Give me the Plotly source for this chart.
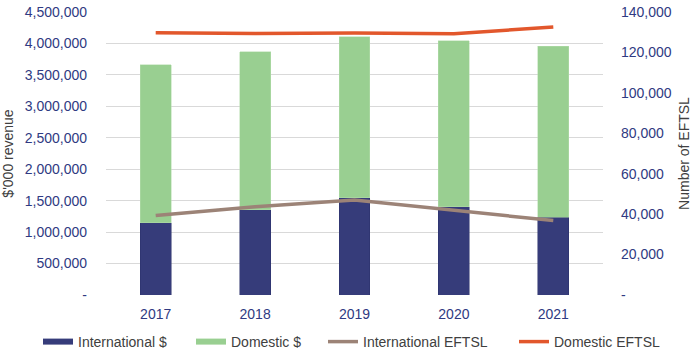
import plotly.graph_objects as go

years = ["2017", "2018", "2019", "2020", "2021"]
intl_rev = [1150000, 1353000, 1549000, 1406000, 1237000]
total_rev = [3661000, 3868000, 4107000, 4043000, 3958000]
dom_rev = [t - i for t, i in zip(total_rev, intl_rev)]
intl_eftsl = [39300, 43700, 47050, 41750, 36800]
dom_eftsl = [129700, 129400, 129600, 129250, 132570]

left_ticks = [0, 500000, 1000000, 1500000, 2000000, 2500000, 3000000, 3500000, 4000000, 4500000]
left_text = ["-"] + [f"{v:,}" for v in left_ticks[1:]]
right_ticks = [0, 20000, 40000, 60000, 80000, 100000, 120000, 140000]
right_text = ["-"] + [f"{v:,}" for v in right_ticks[1:]]

navy = "#363C7A"
green = "#99CF91"
taupe = "#9C8377"
orange = "#E2572C"
tickc = "#2F3A82"
titlec = "#404040"
FS = 14

fig = go.Figure()
fig.add_trace(go.Bar(x=years, y=intl_rev, name="International $", showlegend=False,
                     marker=dict(color=navy, line=dict(color="#2A2F6A", width=0.5)), width=0.31))
fig.add_trace(go.Bar(x=years, y=dom_rev, name="Domestic $", showlegend=False,
                     marker=dict(color=green, line=dict(color="#B5DDAE", width=0.5)), width=0.31))
fig.add_trace(go.Scatter(x=years, y=intl_eftsl, name="International EFTSL", mode="lines",
                         line=dict(color=taupe, width=3.5), yaxis="y2", legend="legend3"))
fig.add_trace(go.Scatter(x=years, y=dom_eftsl, name="Domestic EFTSL", mode="lines",
                         line=dict(color=orange, width=3.5), yaxis="y2", legend="legend4"))
# legend entries for the bars (rectangular swatches)
fig.add_trace(go.Scatter(x=[None], y=[None], name="International $", mode="lines",
                         line=dict(color=navy, width=6), legend="legend"))
fig.add_trace(go.Scatter(x=[None], y=[None], name="Domestic $", mode="lines",
                         line=dict(color=green, width=6), legend="legend2"))

def leg(xpx):
    return dict(orientation="h", xref="container", yref="container", x=xpx / 700, xanchor="left",
                y=1 - 342 / 351, yanchor="middle", font=dict(size=FS, color=titlec),
                bgcolor="rgba(0,0,0,0)", borderwidth=0)

fig.update_layout(
    width=700, height=351,
    margin=dict(l=106, r=97, t=12, b=56, autoexpand=False),
    barmode="stack",
    plot_bgcolor="white", paper_bgcolor="white",
    font=dict(family="Liberation Sans, Arial, sans-serif", size=FS, color=titlec),
    xaxis=dict(tickfont=dict(color=tickc, size=FS), showgrid=False, showline=False, ticks="",
               automargin=False, ticklabelstandoff=9),
    yaxis=dict(range=[0, 4500000], tickvals=left_ticks, ticktext=left_text,
               tickfont=dict(color=tickc, size=FS), gridcolor="#D9D9D9", gridwidth=1,
               zeroline=False, showline=False, automargin=False,
               title=dict(text="$'000 revenue", font=dict(size=FS, color=titlec), standoff=8),
               ticklabelstandoff=18),
    yaxis2=dict(range=[0, 140000], tickvals=right_ticks, ticktext=right_text, overlaying="y", side="right",
                tickfont=dict(color=tickc, size=FS), showgrid=False, zeroline=False, showline=False,
                automargin=False,
                title=dict(text="Number of EFTSL", font=dict(size=FS, color=titlec), standoff=8),
                ticklabelstandoff=17),
    legend=leg(38), legend2=leg(191), legend3=leg(323), legend4=leg(514),
    showlegend=True,
)
fig.write_html("out.html")
